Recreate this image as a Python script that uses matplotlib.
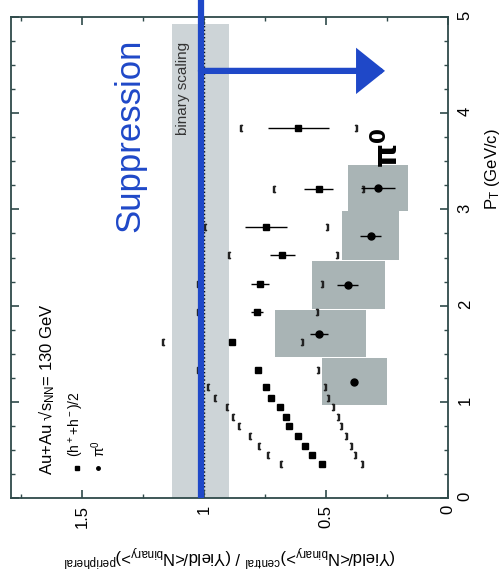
import numpy as np
import matplotlib
matplotlib.use('Agg')
import matplotlib.pyplot as plt
from matplotlib.patches import Rectangle, FancyArrowPatch

plt.rcParams['font.family'] = ['Liberation Sans', 'DejaVu Sans']
plt.rcParams['mathtext.default'] = 'regular'

### data (ratio on horizontal axis, p_T on vertical axis)
# (h+ + h-)/2
pt_h = [0.35, 0.447, 0.544, 0.648, 0.748, 0.845, 0.95, 1.04, 1.15, 1.33,
        1.625, 1.93, 2.22, 2.53, 2.82, 3.21, 3.85]
r_h = [0.515, 0.556, 0.585, 0.616, 0.65, 0.665, 0.689, 0.725, 0.746, 0.777,
       0.884, 0.781, 0.77, 0.678, 0.746, 0.529, 0.613]
rerr_h = [0, 0, 0, 0, 0, 0, 0, 0, 0, 0,
          0, 0.024, 0.038, 0.053, 0.086, 0.06, 0.126]
# systematic brackets
sys_hi_h = [0.684, 0.736, 0.773, 0.809, 0.855, 0.88, 0.907, 0.955, 0.982, 1.023,
            1.166, 1.026, 1.022, 0.896, 0.995, 0.712, 0.846]
sys_lo_h = [0.351, 0.38, 0.399, 0.418, 0.439, 0.452, 0.47, 0.493, 0.504, 0.531,
            0.6, 0.536, 0.518, 0.456, 0.497, 0.347, 0.377]

# pi0
pt_pi = [1.21, 1.71, 2.21, 2.72, 3.22]
r_pi = [0.384, 0.527, 0.411, 0.317, 0.286]
rerr_pi = [0.0, 0.037, 0.042, 0.042, 0.069]
box_pt_lo = [0.97, 1.47, 1.96, 2.47, 2.98]
box_pt_hi = [1.455, 1.95, 2.46, 2.98, 3.46]
box_r_lo = [0.251, 0.336, 0.258, 0.2, 0.163]
box_r_hi = [0.518, 0.709, 0.559, 0.436, 0.409]

# binary scaling band
band_r = (0.898, 1.131)
band_pt_top = 4.93

blue = '#1f48c8'
spine_c = '#2f4a4a'


def main():
    fig = plt.figure(figsize=(5.02, 5.77), dpi=100)
    ax = fig.add_axes([0.0219, 0.1369, 0.8705, 0.8336])

    ax.set_xlim(1.79, 0.0)
    ax.set_ylim(0.0, 5.0)

    # band
    ax.fill_betweenx([0, band_pt_top], band_r[0], band_r[1],
                     color='#cdd4d7', lw=0, zorder=0)
    ax.axvline(1.0, color='k', ls=':', lw=1.0, zorder=1)

    # pi0 systematic boxes
    for lo, hi, rl, rh in zip(box_pt_lo, box_pt_hi, box_r_lo, box_r_hi):
        ax.add_patch(Rectangle((rl, lo), rh - rl, hi - lo,
                               facecolor='#a9b4b5', edgecolor='none', zorder=1))

    # brackets
    ax.plot(sys_hi_h, pt_h, ls='none', marker='$[$', ms=5, color='#222222', zorder=2)
    ax.plot(sys_lo_h, pt_h, ls='none', marker='$]$', ms=5, color='#222222', zorder=2)

    # points
    ax.errorbar(r_h, pt_h, xerr=rerr_h, fmt='s', ms=5, color='k',
                elinewidth=1, capsize=0, zorder=3)
    ax.errorbar(r_pi, pt_pi, xerr=rerr_pi, fmt='o', ms=5, color='k',
                elinewidth=1, capsize=0, zorder=3)

    # blue annotation
    ax.plot([1.012, 1.012], [0, 5.18], color=blue, lw=4.5,
            solid_capstyle='butt', clip_on=False, zorder=4)
    arr = FancyArrowPatch((1.012, 4.44), (0.258, 4.44),
                          arrowstyle='-|>,head_length=15,head_width=12',
                          mutation_scale=1, lw=4.5, color=blue,
                          shrinkA=0, shrinkB=0, joinstyle='miter', zorder=4)
    ax.add_patch(arr)

    # texts
    ax.text(0.272, 0.755, 'Suppression', transform=ax.transAxes, rotation=90,
            ha='center', va='center', fontsize=25, color=blue)
    ax.text(0.394, 0.852, 'binary scaling', transform=ax.transAxes, rotation=90,
            ha='center', va='center', fontsize=11, color='#333333')
    ax.text(0.865, 0.728, r'$\mathbf{\pi^0}$', transform=ax.transAxes, rotation=90,
            ha='center', va='center', fontsize=22, color='k')

    ax.text(0.082, 0.048, 'Au+Au √s$_{NN}$= 130 GeV', transform=ax.transAxes,
            rotation=90, ha='center', va='bottom', fontsize=12)
    ax.text(0.151, 0.085, '(h$^+$+h$^-$)/2', transform=ax.transAxes,
            rotation=90, ha='center', va='bottom', fontsize=10)
    ax.text(0.200, 0.085, r'$\pi^0$', transform=ax.transAxes,
            rotation=90, ha='center', va='bottom', fontsize=10)
    ax.plot([0.150], [0.062], 's', ms=2.5, color='k', transform=ax.transAxes)
    ax.plot([0.200], [0.062], 'o', ms=2.5, color='k', transform=ax.transAxes)

    ax.text(1.103, 0.769, 'P$_T$ (GeV/c)', transform=ax.transAxes,
            rotation=90, ha='center', va='top', fontsize=12)
    ax.text(0.5, -0.118,
            '(Yield/<N$_{binary}$>)$^{central}$ / (Yield/<N$_{binary}$>)$^{peripheral}$',
            transform=ax.transAxes, rotation=180, ha='center', va='center',
            fontsize=12)

    # axes
    ax.set_xticks([0, 0.5, 1, 1.5])
    ax.set_xticklabels(['0', '0.5', '1', '1.5'])
    ax.set_xticks(np.arange(0, 1.8, 0.25), minor=True)
    ax.set_yticks([0, 1, 2, 3, 4, 5])
    ax.set_yticks(np.arange(0, 5.01, 0.25), minor=True)
    ax.tick_params(which='both', direction='in', top=True, bottom=True,
                   left=True, right=True, labelleft=False, labelright=True,
                   colors=spine_c, labelcolor='k', labelsize=12)
    ax.tick_params(which='major', length=6, width=1.2)
    ax.tick_params(which='minor', length=3, width=1.0)
    ax.tick_params(axis='x', labelrotation=90, pad=5)
    ax.tick_params(axis='y', labelrotation=90, pad=7)
    for s in ax.spines.values():
        s.set_color(spine_c)
        s.set_linewidth(1.3)

    fig.savefig('out.png', dpi=100)


if __name__ == '__main__':
    main()
